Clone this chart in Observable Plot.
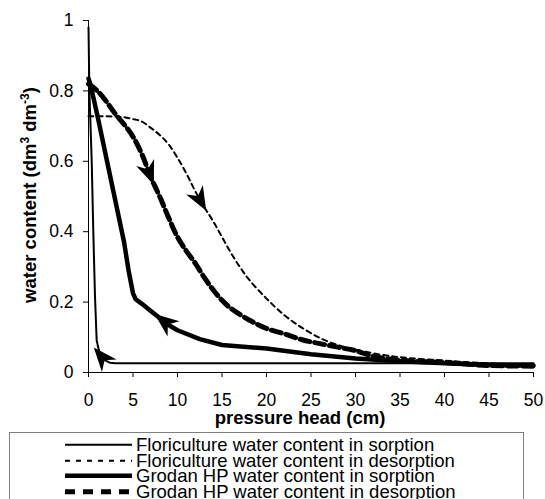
<!DOCTYPE html>
<html>
<head>
<meta charset="utf-8">
<script src="https://cdn.jsdelivr.net/npm/d3@7"></script>
<script src="https://cdn.jsdelivr.net/npm/@observablehq/plot@0.6"></script>
<style>
  body { margin: 0; background: #fff; font-family: "Liberation Sans", Arial, sans-serif; }
  #legend {
    margin-left: 9px; width: 515px; height: 80px; box-sizing: border-box;
    border: 1px solid #808080; padding-top: 4px; overflow: hidden;
  }
  .row { display: flex; align-items: center; height: 15.5px; }
  .row svg { margin-left: 55px; flex: none; }
  .row span { margin-left: 4px; font-size: 18.5px; line-height: 15.5px; white-space: nowrap; color: #000; }
</style>
</head>
<body>
<div id="chart"></div>
<div id="legend"></div>
<script>
// Water retention curves: pressure head (cm) vs water content (dm3 dm-3)
const floriSorptionHead  = [0, 0.1, 0.36, 0.54, 0.73, 0.92, 1.3, 1.8, 2.4, 3, 10, 20, 30, 40, 50];
const floriSorptionWater = [0.98, 0.80, 0.60, 0.40, 0.215, 0.09, 0.05, 0.035, 0.028, 0.026, 0.026, 0.026, 0.026, 0.026, 0.026];

const floriDesorptionHead  = [0, 2, 3, 4, 5, 6, 7, 8, 9, 10, 11, 12, 13, 14, 15, 16, 17, 18, 20, 22, 24, 26, 28, 30, 33, 36, 40, 44, 50];
const floriDesorptionWater = [0.728, 0.728, 0.727, 0.725, 0.72, 0.713, 0.695, 0.675, 0.648, 0.61, 0.565, 0.515, 0.47, 0.43, 0.385, 0.34, 0.30, 0.265, 0.21, 0.163, 0.127, 0.098, 0.078, 0.065, 0.05, 0.041, 0.034, 0.027, 0.022];

const grodanSorptionHead  = [0, 0.2, 1, 2, 3, 4, 4.5, 5, 5.3, 6, 7, 8, 9, 10, 12.5, 15, 20, 25, 30, 35, 40, 45, 50];
const grodanSorptionWater = [0.835, 0.82, 0.73, 0.61, 0.49, 0.37, 0.29, 0.225, 0.208, 0.195, 0.175, 0.155, 0.135, 0.12, 0.095, 0.078, 0.068, 0.052, 0.04, 0.032, 0.026, 0.021, 0.02];

const grodanDesorptionHead  = [0, 1, 2, 3, 4, 5, 6, 7, 8, 9, 10, 11, 12, 13, 14, 15, 16, 18, 20, 22, 24, 26, 28, 30, 32, 35, 40, 45, 50];
const grodanDesorptionWater = [0.82, 0.80, 0.77, 0.735, 0.705, 0.67, 0.62, 0.555, 0.50, 0.44, 0.385, 0.345, 0.31, 0.27, 0.235, 0.205, 0.182, 0.15, 0.125, 0.11, 0.093, 0.082, 0.072, 0.062, 0.046, 0.035, 0.028, 0.02, 0.018];

const seriesNames = [
  "Floriculture water content in sorption",
  "Floriculture water content in desorption",
  "Grodan HP water content in sorption",
  "Grodan HP water content in desorption"
];
const seriesHead  = [floriSorptionHead, floriDesorptionHead, grodanSorptionHead, grodanDesorptionHead];
const seriesWater = [floriSorptionWater, floriDesorptionWater, grodanSorptionWater, grodanDesorptionWater];

// direction markers along the curves (pressure head where each arrowhead sits)
const arrowSeries = [0, 2, 3, 1];
const arrowHead   = [1.55, 8.6, 6.8, 12.5];

const xTicks = [0, 5, 10, 15, 20, 25, 30, 35, 40, 45, 50];
const yTicks = [0, 0.2, 0.4, 0.6, 0.8, 1];

// line appearance per series
const lineStyles = [
  {strokeWidth: 2,   strokeDasharray: null,  curve: "linear"},
  {strokeWidth: 2,   strokeDasharray: "5,4", curve: "catmull-rom"},
  {strokeWidth: 4.5, strokeDasharray: null,  curve: "linear"},
  {strokeWidth: 5,   strokeDasharray: "10,5", curve: "catmull-rom"}
];

const width = 545, height = 432;
const margin = {left: 88, right: 12, top: 20, bottom: 60};
const xDomain = [0, 50], yDomain = [0, 1];
const kx = (width - margin.left - margin.right) / (xDomain[1] - xDomain[0]);
const ky = (height - margin.top - margin.bottom) / (yDomain[1] - yDomain[0]);

const rows = seriesNames.flatMap((name, s) =>
  seriesHead[s].map((h, i) => ({series: name, head: h, water: seriesWater[s][i]})));

// place each arrowhead on its curve, oriented along the drawn segment
const arrows = arrowSeries.map((s, a) => {
  const H = seriesHead[s], W = seriesWater[s], h = arrowHead[a];
  let i = 0;
  while (i < H.length - 2 && H[i + 1] < h) i++;
  const t = (h - H[i]) / (H[i + 1] - H[i]);
  const water = W[i] + t * (W[i + 1] - W[i]);
  const dx = (H[i + 1] - H[i]) * kx;
  const dy = -(W[i + 1] - W[i]) * ky;
  let angle = Math.atan2(dy, dx) * 180 / Math.PI;
  if (seriesNames[s].endsWith("in sorption")) angle += 180; // sorption runs toward wetter side
  return {head: h, water, angle};
});

// filled "stealth" arrowhead pointing along +x
const stealth = {
  draw(ctx, size) {
    const r = Math.sqrt(size / Math.PI);
    ctx.moveTo(1.1 * r, 0);
    ctx.lineTo(-0.9 * r, 0.8 * r);
    ctx.lineTo(-0.3 * r, 0);
    ctx.lineTo(-0.9 * r, -0.8 * r);
    ctx.closePath();
  }
};

const chart = Plot.plot({
  width, height,
  marginLeft: margin.left, marginRight: margin.right,
  marginTop: margin.top, marginBottom: margin.bottom,
  style: {fontFamily: '"Liberation Sans", Arial, sans-serif', fontSize: "17.5px", color: "#000", background: "#fff"},
  x: {domain: xDomain},
  y: {domain: yDomain},
  marks: [
    Plot.axisX({ticks: xTicks, tickSize: 5, tickPadding: 16, label: null, tickFormat: d => String(d)}),
    Plot.axisY({ticks: yTicks, tickSize: 5, tickPadding: 10, label: null, tickFormat: d => String(d)}),
    Plot.ruleX([0], {stroke: "#000", strokeWidth: 1}),
    Plot.ruleY([0], {stroke: "#000", strokeWidth: 1}),
    ...seriesNames.map((name, s) =>
      Plot.line(rows.filter(d => d.series === name), {
        x: "head", y: "water", stroke: "#000",
        strokeWidth: lineStyles[s].strokeWidth,
        strokeDasharray: lineStyles[s].strokeDasharray,
        curve: lineStyles[s].curve,
        strokeLinejoin: "round"
      })),
    Plot.dot(arrows, {x: "head", y: "water", r: 12, symbol: stealth, fill: "#000", stroke: "none", rotate: "angle"})
  ]
});

const svg = d3.select(chart);
svg.append("text")
  .attr("x", 300).attr("y", 423.5)
  .attr("text-anchor", "middle")
  .attr("font-weight", "bold").attr("font-size", 18.5)
  .attr("fill", "#000")
  .text("pressure head (cm)");

const yLabel = svg.append("text")
  .attr("transform", "translate(36,195) rotate(-90)")
  .attr("text-anchor", "middle")
  .attr("font-weight", "bold").attr("font-size", 18.5)
  .attr("fill", "#000");
yLabel.append("tspan").text("water content (dm");
yLabel.append("tspan").attr("dy", -7).attr("font-size", 12).text("3");
yLabel.append("tspan").attr("dy", 7).text(" dm");
yLabel.append("tspan").attr("dy", -7).attr("font-size", 12).text("-3");
yLabel.append("tspan").attr("dy", 7).text(")");

document.getElementById("chart").appendChild(chart);

// legend below the chart
const legend = d3.select("#legend");
seriesNames.forEach((name, s) => {
  const row = legend.append("div").attr("class", "row");
  const sample = row.append("svg").attr("width", 67).attr("height", 15.5);
  sample.append("line")
    .attr("x1", 0).attr("x2", 67).attr("y1", 7.75).attr("y2", 7.75)
    .attr("stroke", "#000")
    .attr("stroke-width", lineStyles[s].strokeWidth)
    .attr("stroke-dasharray", s === 1 ? "5,6" : s === 3 ? "10,8" : null);
  row.append("span").text(name);
});
</script>
</body>
</html>
